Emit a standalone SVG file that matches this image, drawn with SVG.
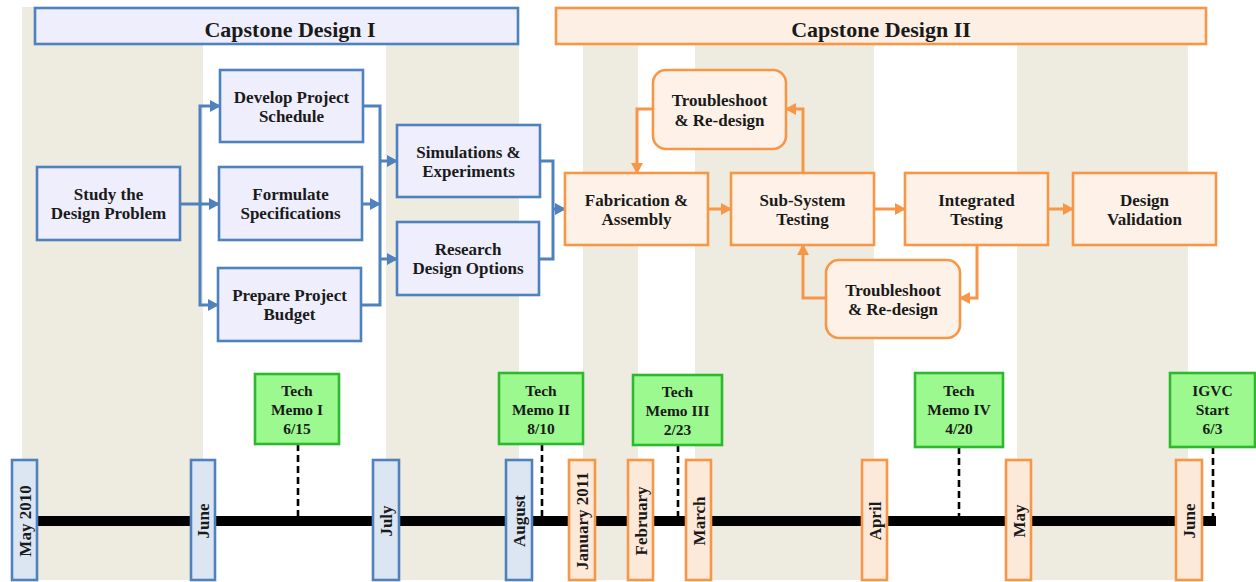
<svg xmlns="http://www.w3.org/2000/svg" width="1256" height="582" viewBox="0 0 1256 582">
<style>
text{font-family:"Liberation Serif","Times New Roman",serif;font-weight:bold;fill:#1a1a1a;text-anchor:middle}
.hd{font-size:22px}
.nt{font-size:17px}
.gt{font-size:15.5px}
.mt{font-size:17px}
.stripe{fill:#EEECE1}
.bn{fill:#EEEEFC;stroke:#4F81BD;stroke-width:2.6}
.on{fill:#FEF2E8;stroke:#F79646;stroke-width:2.6}
.bm{fill:#DCE6F2;stroke:#4F81BD;stroke-width:2.6}
.om{fill:#FDE9D9;stroke:#F79646;stroke-width:2.6}
.gm{fill:#9BF98F;stroke:#2EB82E;stroke-width:2.6}
.bc{fill:none;stroke:#4F81BD;stroke-width:3}
.oc{fill:none;stroke:#F79646;stroke-width:3}
.dash{fill:none;stroke:#000;stroke-width:2.6;stroke-dasharray:7 4}
</style>
<defs>
<marker id="ab" markerUnits="userSpaceOnUse" markerWidth="11" markerHeight="12" refX="10" refY="6" orient="auto"><path d="M0,0 L11,6 L0,12 z" fill="#4F81BD"/></marker>
<marker id="ao" markerUnits="userSpaceOnUse" markerWidth="11" markerHeight="12" refX="10" refY="6" orient="auto"><path d="M0,0 L11,6 L0,12 z" fill="#F79646"/></marker>
</defs>
<rect width="1256" height="582" fill="#fff"/>
<g id="background">
<rect class="stripe" x="22" y="7" width="181" height="573"/>
<rect class="stripe" x="386" y="7" width="133" height="573"/>
<rect class="stripe" x="583" y="7" width="55" height="573"/>
<rect class="stripe" x="695" y="7" width="179" height="573"/>
<rect class="stripe" x="1017" y="7" width="171" height="573"/>
</g>
<g id="header1"><rect x="35" y="8" width="483" height="36" fill="#EEEEFC" stroke="#4F81BD" stroke-width="2.6"/><text class="hd" x="290" y="37">Capstone Design I</text></g>
<g id="header2"><rect x="556" y="8" width="650" height="36" fill="#FDEFE3" stroke="#F79646" stroke-width="2.6"/><text class="hd" x="881" y="37">Capstone Design II</text></g>
<g id="connectors">
<path class="bc" d="M180,204 H219" marker-end="url(#ab)"/>
<path class="bc" d="M200,204 V106 H220" marker-end="url(#ab)"/>
<path class="bc" d="M200,204 V305 H218" marker-end="url(#ab)"/>
<path class="bc" d="M363,106 H380 V305 H361"/>
<path class="bc" d="M362,204 H380" marker-end="url(#ab)"/>
<path class="bc" d="M380,161 H397" marker-end="url(#ab)"/>
<path class="bc" d="M380,259 H397" marker-end="url(#ab)"/>
<path class="bc" d="M540,161 H553 V259 H539"/>
<path class="bc" d="M553,209 H565" marker-end="url(#ab)"/>
<path class="oc" d="M708,209 H731" marker-end="url(#ao)"/>
<path class="oc" d="M874,209 H905" marker-end="url(#ao)"/>
<path class="oc" d="M1048,209 H1073" marker-end="url(#ao)"/>
<path class="oc" d="M803,173 V109 H786" marker-end="url(#ao)"/>
<path class="oc" d="M653,109 H637 V173" marker-end="url(#ao)"/>
<path class="oc" d="M977,245 V298 H960" marker-end="url(#ao)"/>
<path class="oc" d="M826,298 H803 V245" marker-end="url(#ao)"/>
</g>
<g id="study"><rect class="bn" x="37" y="167" width="143" height="73"/><text class="nt" x="108.5" y="200">Study the</text><text class="nt" x="108.5" y="219">Design Problem</text></g>
<g id="develop"><rect class="bn" x="220" y="70" width="143" height="72"/><text class="nt" x="291.5" y="102.5">Develop Project</text><text class="nt" x="291.5" y="121.5">Schedule</text></g>
<g id="formulate"><rect class="bn" x="219" y="167" width="143" height="73"/><text class="nt" x="290.5" y="200">Formulate</text><text class="nt" x="290.5" y="219">Specifications</text></g>
<g id="budget"><rect class="bn" x="218" y="268" width="143" height="73"/><text class="nt" x="289.5" y="301">Prepare Project</text><text class="nt" x="289.5" y="320">Budget</text></g>
<g id="simulations"><rect class="bn" x="397" y="125" width="143" height="72"/><text class="nt" x="468.5" y="157.5">Simulations &amp;</text><text class="nt" x="468.5" y="176.5">Experiments</text></g>
<g id="research"><rect class="bn" x="397" y="222" width="142" height="73"/><text class="nt" x="468" y="255">Research</text><text class="nt" x="468" y="274">Design Options</text></g>
<g id="fabrication"><rect class="on" x="565" y="173" width="143" height="72"/><text class="nt" x="636.5" y="205.5">Fabrication &amp;</text><text class="nt" x="636.5" y="224.5">Assembly</text></g>
<g id="subsystem"><rect class="on" x="731" y="173" width="143" height="72"/><text class="nt" x="802.5" y="205.5">Sub-System</text><text class="nt" x="802.5" y="224.5">Testing</text></g>
<g id="integrated"><rect class="on" x="905" y="173" width="143" height="72"/><text class="nt" x="976.5" y="205.5">Integrated</text><text class="nt" x="976.5" y="224.5">Testing</text></g>
<g id="validation"><rect class="on" x="1073" y="173" width="143" height="72"/><text class="nt" x="1144.5" y="205.5">Design</text><text class="nt" x="1144.5" y="224.5">Validation</text></g>
<g id="troubleshoot1"><rect class="on" x="653" y="70" width="133" height="79" rx="13"/><text class="nt" x="719.5" y="106">Troubleshoot</text><text class="nt" x="719.5" y="125.5">&amp; Re-design</text></g>
<g id="troubleshoot2"><rect class="on" x="826" y="260" width="134" height="78" rx="13"/><text class="nt" x="893" y="296">Troubleshoot</text><text class="nt" x="893" y="315">&amp; Re-design</text></g>
<g id="timeline">
<rect x="37" y="516" width="1179" height="10" fill="#000"/>
<path class="dash" d="M298,444 V516"/>
<path class="dash" d="M542,444 V516"/>
<path class="dash" d="M678,445 V516"/>
<path class="dash" d="M959,447 V516"/>
<path class="dash" d="M1213,447 V516"/>
</g>
<g id="m-may2010"><rect class="bm" x="12" y="460" width="25" height="120"/><text class="mt" transform="translate(24.5,521) rotate(-90)" y="6">May 2010</text></g>
<g id="m-june"><rect class="bm" x="191" y="460" width="24" height="120"/><text class="mt" transform="translate(203,521) rotate(-90)" y="6">June</text></g>
<g id="m-july"><rect class="bm" x="373" y="460" width="26" height="120"/><text class="mt" transform="translate(386,521) rotate(-90)" y="6">July</text></g>
<g id="m-august"><rect class="bm" x="506" y="460" width="26" height="120"/><text class="mt" transform="translate(519,521) rotate(-90)" y="6">August</text></g>
<g id="m-jan2011"><rect class="om" x="569" y="460" width="26" height="120"/><text class="mt" transform="translate(582,521) rotate(-90)" y="6">January 2011</text></g>
<g id="m-feb"><rect class="om" x="628" y="460" width="25" height="120"/><text class="mt" transform="translate(640.5,521) rotate(-90)" y="6">February</text></g>
<g id="m-mar"><rect class="om" x="686" y="460" width="25" height="120"/><text class="mt" transform="translate(698.5,521) rotate(-90)" y="6">March</text></g>
<g id="m-apr"><rect class="om" x="862" y="460" width="25" height="120"/><text class="mt" transform="translate(874.5,521) rotate(-90)" y="6">April</text></g>
<g id="m-may"><rect class="om" x="1006" y="460" width="25" height="120"/><text class="mt" transform="translate(1018.5,521) rotate(-90)" y="6">May</text></g>
<g id="m-june2"><rect class="om" x="1176" y="460" width="26" height="120"/><text class="mt" transform="translate(1189,521) rotate(-90)" y="6">June</text></g>
<g id="memo1"><rect class="gm" x="255" y="374" width="84" height="70"/><text class="gt" x="297" y="396">Tech</text><text class="gt" x="297" y="415">Memo I</text><text class="gt" x="297" y="434">6/15</text></g>
<g id="memo2"><rect class="gm" x="499" y="373" width="84" height="71"/><text class="gt" x="541" y="395.5">Tech</text><text class="gt" x="541" y="414.5">Memo II</text><text class="gt" x="541" y="433.5">8/10</text></g>
<g id="memo3"><rect class="gm" x="633" y="375" width="89" height="70"/><text class="gt" x="677.5" y="396.5">Tech</text><text class="gt" x="677.5" y="415.5">Memo III</text><text class="gt" x="677.5" y="434.5">2/23</text></g>
<g id="memo4"><rect class="gm" x="915" y="373" width="88" height="74"/><text class="gt" x="959" y="395.5">Tech</text><text class="gt" x="959" y="414.5">Memo IV</text><text class="gt" x="959" y="433.5">4/20</text></g>
<g id="igvc"><rect class="gm" x="1170" y="373" width="85" height="74"/><text class="gt" x="1212.5" y="395.5">IGVC</text><text class="gt" x="1212.5" y="414.5">Start</text><text class="gt" x="1212.5" y="433.5">6/3</text></g>
</svg>
